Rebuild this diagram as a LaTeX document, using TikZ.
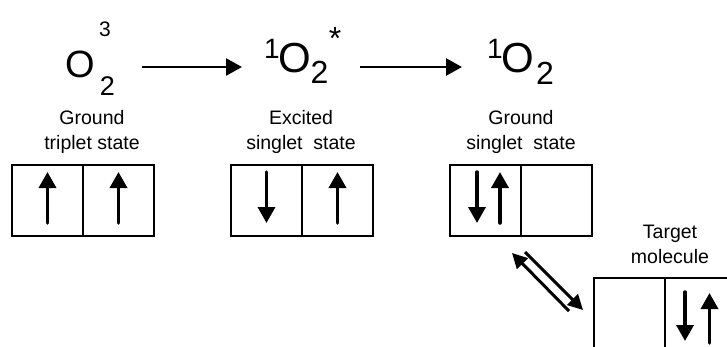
\documentclass[tikz,border=0pt]{standalone}
\usepackage{fontspec}
\setmainfont{Liberation Sans}
\usetikzlibrary{arrows.meta, calc}
\newcommand{\fsz}[1]{\fontsize{#1bp}{#1bp}\selectfont}
\newcommand{\singl}{\raisebox{14.5bp}{\fsz{28}1}\kern-1bp O}

\begin{document}
\begin{tikzpicture}[x=1bp, y=-1bp, >=Triangle,
    cell/.style={draw, line width=1.8bp, minimum width=71bp, minimum height=71bp, inner sep=0pt, outer sep=0pt},
    spin/.style={line width=3.5bp, line cap=round, -{Triangle[length=16bp, width=17bp]}},
    react/.style={line width=2.7bp, -{Triangle[length=16bp, width=17bp]}},
    equil/.style={line width=3bp, -{Triangle[length=15bp, width=15bp]}},
    statetext/.style={font=\fontsize{19.5bp}{25bp}\selectfont, align=center, inner sep=0pt},
    symb/.style={font=\fsz{42}, inner sep=0pt},
    idx/.style={font=\fsz{32}, inner sep=0pt}]
  \useasboundingbox (0,0) rectangle (727,346);
  \clip (0,0) rectangle (727,346);
  % the three states of oxygen
  \node[symb, font=\fsz{38}] (o1) at (80,64) {O};
  \node[idx, font=\fsz{27}] (o1sub) at (107.5,86) {2};
  \node[font=\fsz{21}, inner sep=0pt] (o1sup) at (105,29.5) {3};
  \node[symb, anchor=base west] (ex) at (264,72.5) {\singl};
  \node[idx] (exsub) at (319.5,72.5) {2};
  \node[font=\fsz{32}, inner sep=0pt] (exstar) at (335,38) {*};
  \node[symb, anchor=base west] (gs) at (487,72.5) {\singl};
  \node[idx] (gssub) at (545,73.5) {2};
  \draw[react] ($(o1sub.east |- o1)+(27,3)$) -- ($(ex.west |- o1)+(-22,3)$);
  \draw[react] ($(exstar.east |- o1)+(19,3)$) -- ($(gs.west |- o1)+(-25,3)$);
  \foreach \nm/\x/\y/\txt in {tripl/92/131.5/{Ground\\triplet state}, excit/301/132/{Excited\\singlet\ \ state},
      gsing/521/132/{Ground\\singlet\ \ state}, targ/670/244/{Target\\molecule}}
    \node[statetext] (\nm) at (\x,\y) {\txt};
  % orbital boxes
  \foreach \nm/\x/\y in {c1a/47.5/200.5, c1b/118.5/200.5, c2a/266.5/200.5, c2b/337.5/200.5,
      c3a/485.5/200.5, c3b/556.5/200.5, ta/629.5/313.5, tb/700.5/313.5}
    \node[cell] (\nm) at (\x,\y) {};
  \foreach \x/\a/\b in {47.5/223/172, 118.5/223/172, 266.5/172/223, 337.5/223/172,
      477/172/223, 500/223/172, 685/292/341, 709.5/343/293}
    \draw[spin] (\x,\a) -- (\x,\b);
  \draw[equil] ($(c3a.south east)+(4,16)$) -- ($(ta.north west)+(-11,32)$);
  \draw[equil] ($(ta.north west)+(-25,33)$) -- ($(c3a.south east)+(-9,17)$);
\end{tikzpicture}
\end{document}
